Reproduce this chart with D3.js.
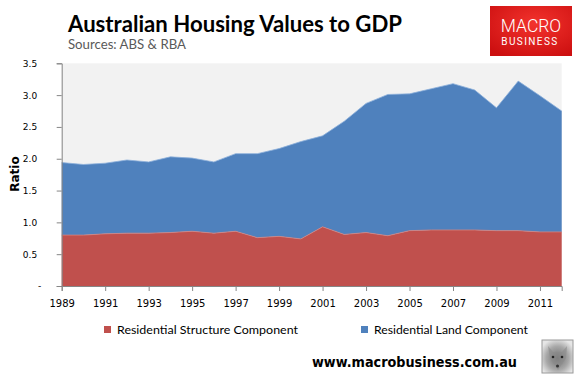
<!DOCTYPE html>
<html><head><meta charset="utf-8">
<script src="https://cdn.jsdelivr.net/npm/d3@7"></script>
<style>
html,body{margin:0;padding:0;background:#fff;}
svg{display:block;}
</style>
</head><body>
<svg id="chart" width="582" height="384"></svg>
<script>
// ---- data ----
const years = [1989,1990,1991,1992,1993,1994,1995,1996,1997,1998,1999,2000,2001,2002,2003,2004,2005,2006,2007,2008,2009,2010,2011,2012];
const structure = [0.80,0.80,0.82,0.83,0.83,0.84,0.86,0.83,0.86,0.76,0.78,0.74,0.93,0.81,0.84,0.79,0.87,0.88,0.88,0.88,0.87,0.87,0.85,0.85];
const land = [1.14,1.11,1.11,1.15,1.12,1.19,1.15,1.12,1.22,1.32,1.38,1.53,1.43,1.78,2.03,2.22,2.15,2.22,2.30,2.20,1.93,2.35,2.14,1.90];
const yTicks = [0,0.5,1.0,1.5,2.0,2.5,3.0,3.5];
const xTickYears = [1989,1991,1993,1995,1997,1999,2001,2003,2005,2007,2009,2011];
const seriesNames = ["Residential Structure Component","Residential Land Component"];
const seriesColors = ["#c0504d","#4f81bd"];

const svg = d3.select("#chart");
const L = 61.7, R = 561.7, T = 63.3, B = 286;

const x = d3.scalePoint().domain(years).range([L, R]);
const y = d3.scaleLinear().domain([0, 3.5]).range([B, T]);

// plot background
svg.append("rect").attr("x", L).attr("y", T).attr("width", R - L).attr("height", B - T).attr("fill", "#f2f2f2");

// stacked areas
const table = years.map((yr, i) => ({year: yr, s: structure[i], l: land[i]}));
const stack = d3.stack().keys(["s", "l"]);
const layers = stack(table);
const area = d3.area()
  .x(d => x(d.data.year))
  .y0(d => y(d[0]))
  .y1(d => y(d[1]));
svg.selectAll("path.layer").data(layers).enter().append("path")
  .attr("class", "layer")
  .attr("d", area)
  .attr("fill", (d, i) => seriesColors[i]);
// light edge lines
const edge = d3.line().x(d => x(d.data.year)).y(d => y(d[1]));
svg.selectAll("path.edge").data(layers).enter().append("path")
  .attr("class", "edge")
  .attr("d", edge)
  .attr("fill", "none")
  .attr("stroke", (d, i) => i === 0 ? "#d6837f" : "#8db0da")
  .attr("stroke-width", 0.8);

// y axis
const yAxis = d3.axisLeft(y).tickValues(yTicks).tickSize(5).tickPadding(19.5)
  .tickFormat(d => d === 0 ? "-" : d3.format(".1f")(d));
const gy = svg.append("g").attr("transform", `translate(${L},0)`).call(yAxis);
gy.select(".domain").attr("stroke", "#868686");
gy.selectAll(".tick line").attr("stroke", "#868686");
gy.selectAll(".tick text").attr("font-family", "DejaVu Sans, Verdana, sans-serif").attr("font-size", 9).attr("fill", "#000");
gy.selectAll(".tick text").filter(d => d === 0).attr("dx", 4);

// x axis
const xAxis = d3.axisBottom(x).tickValues(xTickYears).tickSize(5).tickPadding(9);
const gx = svg.append("g").attr("transform", `translate(0,${B})`).call(xAxis);
gx.select(".domain").attr("stroke", "#868686");
gx.selectAll(".tick line").attr("stroke", "#868686");
gx.selectAll(".tick text").attr("font-family", "DejaVu Sans, Verdana, sans-serif").attr("font-size", 10).attr("fill", "#000");

// y title
svg.append("text").attr("transform", "translate(18.5,174) rotate(-90)")
  .attr("text-anchor", "middle").attr("font-family", "DejaVu Sans, Verdana, sans-serif")
  .attr("font-weight", "bold").attr("font-size", 12).text("Ratio");

// title
svg.append("text").attr("x", 68).attr("y", 32)
  .attr("font-family", "Lato, 'Open Sans', sans-serif").attr("font-weight", "bold").attr("font-size", 23)
  .attr("textLength", 334).attr("lengthAdjust", "spacingAndGlyphs")
  .attr("fill", "#000").text("Australian Housing Values to GDP");
svg.append("text").attr("x", 68).attr("y", 49)
  .attr("font-family", "Lato, 'Open Sans', sans-serif").attr("font-size", 13.5)
  .attr("textLength", 118).attr("lengthAdjust", "spacingAndGlyphs")
  .attr("fill", "#595959").text("Sources: ABS & RBA");

// logo
const defs = svg.append("defs");
const rg = defs.append("radialGradient").attr("id", "logoGrad").attr("cx", "55%").attr("cy", "35%").attr("r", "75%");
rg.append("stop").attr("offset", "0%").attr("stop-color", "#f3332d");
rg.append("stop").attr("offset", "100%").attr("stop-color", "#cc0f10");
svg.append("rect").attr("x", 490).attr("y", 6).attr("width", 82).attr("height", 50).attr("fill", "url(#logoGrad)");
svg.append("text").attr("x", 531).attr("y", 31.5).attr("text-anchor", "middle")
  .attr("font-family", "Roboto, 'DejaVu Sans', sans-serif").attr("font-weight", 300).attr("font-size", 17.5)
  .attr("fill", "#fff").text("MACRO");
svg.append("text").attr("x", 530).attr("y", 44.5).attr("text-anchor", "middle")
  .attr("font-family", "Roboto, 'DejaVu Sans', sans-serif").attr("font-weight", 400).attr("font-size", 10)
  .attr("letter-spacing", 1.4).attr("fill", "#fff").text("BUSINESS");

// legend
const legendPos = [{sx: 104, tx: 117, w: 181}, {sx: 361, tx: 374, w: 154}];
seriesNames.forEach((n, i) => {
  svg.append("rect").attr("x", legendPos[i].sx).attr("y", 326).attr("width", 7).attr("height", 7).attr("fill", seriesColors[i]);
  svg.append("text").attr("x", legendPos[i].tx).attr("y", 333.5)
    .attr("font-family", "Lato, 'Open Sans', sans-serif").attr("font-size", 11.5)
    .attr("textLength", legendPos[i].w).attr("lengthAdjust", "spacingAndGlyphs")
    .attr("fill", "#000").text(n);
});

// footer
svg.append("text").attr("x", 312).attr("y", 367)
  .attr("font-family", "DejaVu Sans, Verdana, sans-serif").attr("font-weight", "bold").attr("font-size", 14)
  .attr("textLength", 205).attr("lengthAdjust", "spacingAndGlyphs")
  .attr("fill", "#000").text("www.macrobusiness.com.au");

// wolf thumbnail (approximation)
const wg = defs.append("radialGradient").attr("id", "wolfGrad").attr("cx", "50%").attr("cy", "55%").attr("r", "60%");
wg.append("stop").attr("offset", "0%").attr("stop-color", "#6f6f6f");
wg.append("stop").attr("offset", "60%").attr("stop-color", "#a8a8a8");
wg.append("stop").attr("offset", "100%").attr("stop-color", "#e6e6e6");
svg.append("rect").attr("x", 542).attr("y", 340).attr("width", 31).attr("height", 33)
  .attr("fill", "url(#wolfGrad)").attr("stroke", "#9a9a9a").attr("stroke-width", 1);
svg.append("path").attr("d", "M548,346 L553,352 L562,352 L567,346 L566,358 L558,370 L550,358 Z")
  .attr("fill", "#8a8a8a").attr("opacity", 0.6);
svg.append("circle").attr("cx", 553).attr("cy", 357).attr("r", 1.3).attr("fill", "#222");
svg.append("circle").attr("cx", 562).attr("cy", 357).attr("r", 1.3).attr("fill", "#222");
svg.append("circle").attr("cx", 557.5).attr("cy", 366).attr("r", 1.5).attr("fill", "#333");
</script>
</body></html>
